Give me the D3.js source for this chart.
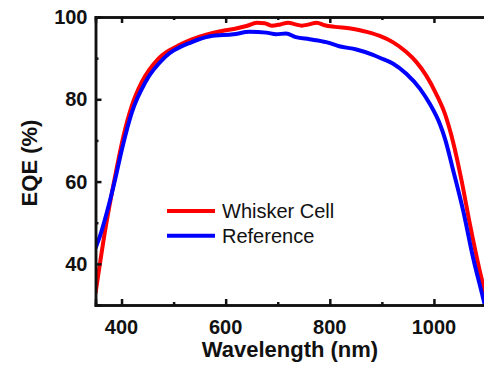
<!DOCTYPE html>
<html>
<head>
<meta charset="utf-8">
<script src="https://cdn.jsdelivr.net/npm/d3@7"></script>
<style>
  body { margin: 0; background: #fff; }
  svg { display: block; }
  .tick-label { font-family: "Liberation Sans", Arial, sans-serif; font-weight: bold; font-size: 20px; fill: #111; }
  .axis-title { font-family: "Liberation Sans", Arial, sans-serif; font-weight: bold; font-size: 22px; fill: #111; }
  .legend-text { font-family: "Liberation Sans", Arial, sans-serif; font-size: 20px; fill: #111; }
</style>
</head>
<body>
<div id="chart"></div>
<script>
// EQE spectra
const wlWhisker = [350, 369, 388, 404, 420, 439, 471, 510, 550, 575, 600, 620, 640, 660, 675, 688, 705, 720, 734, 746, 760, 775, 790, 810, 840, 860, 880, 896, 921, 947, 966, 985, 1004, 1021, 1037, 1053, 1069, 1085, 1100];
const eqeWhisker = [32.8, 48.5, 61.5, 71.2, 78.5, 84.2, 89.9, 93.1, 95.2, 96.1, 96.8, 97.2, 97.8, 98.6, 98.5, 97.9, 98.2, 98.6, 98.2, 97.9, 98.2, 98.6, 98.0, 97.6, 97.2, 96.7, 96.1, 95.4, 93.9, 91.5, 89.1, 85.8, 81.4, 76.5, 69.5, 60.3, 49.7, 40.0, 32.0];

const wlReference = [350, 359, 372, 388, 401, 420, 446, 484, 535, 570, 615, 646, 678, 697, 716, 735, 761, 793, 818, 851, 883, 896, 921, 947, 973, 992, 1011, 1021, 1037, 1056, 1075, 1094, 1100];
const eqeReference = [43.8, 46.9, 52.6, 60.7, 68.0, 76.9, 84.2, 90.3, 93.9, 95.3, 95.8, 96.4, 96.2, 95.8, 96.0, 95.1, 94.6, 93.9, 92.9, 92.1, 90.8, 90.1, 88.7, 86.2, 82.6, 78.9, 74.1, 70.5, 62.7, 53.0, 41.6, 31.9, 28.8];

const seriesNames = ["Whisker Cell", "Reference"];
const seriesColors = ["#ff0000", "#0000ff"];

const xMajor = [400, 600, 800, 1000];
const xMinor = [500, 700, 900];
const yMajor = [40, 60, 80, 100];
const yMinor = [50, 70, 90];

const W = 484, H = 367;
const margin = { top: 17, right: -2, bottom: 62, left: 95.5 };
const width = W - margin.left - margin.right;
const height = H - margin.top - margin.bottom;

const svg = d3.select("#chart").append("svg")
  .attr("width", W)
  .attr("height", H);

const x = d3.scaleLinear().domain([350, 1100]).range([0, width]);
const y = d3.scaleLinear().domain([30, 100]).range([height, 0]);

const g = svg.append("g")
  .attr("transform", `translate(${margin.left},${margin.top})`);

g.append("clipPath").attr("id", "clip")
  .append("rect").attr("width", width).attr("height", height);

const line = d3.line()
  .x(d => x(d[0]))
  .y(d => y(d[1]))
  .curve(d3.curveMonotoneX);

const series = [
  d3.zip(wlWhisker, eqeWhisker),
  d3.zip(wlReference, eqeReference)
];

series.forEach((s, i) => {
  g.append("path")
    .datum(s)
    .attr("clip-path", "url(#clip)")
    .attr("fill", "none")
    .attr("stroke", seriesColors[i])
    .attr("stroke-width", 4)
    .attr("d", line);
});

// axes: inward ticks on all sides
const axBottom = d3.axisBottom(x).tickValues(xMajor).tickSize(-6).tickFormat("");
const axBottomMinor = d3.axisBottom(x).tickValues(xMinor).tickSize(-3).tickFormat("");
const axTop = d3.axisTop(x).tickValues(xMajor).tickSize(-6).tickFormat("");
const axTopMinor = d3.axisTop(x).tickValues(xMinor).tickSize(-3).tickFormat("");
const axLeft = d3.axisLeft(y).tickValues(yMajor).tickSize(-6).tickFormat("");
const axLeftMinor = d3.axisLeft(y).tickValues(yMinor).tickSize(-3).tickFormat("");

function styleAxis(sel) {
  sel.selectAll("path").attr("stroke", "#111").attr("stroke-width", 2.5);
  sel.selectAll("line").attr("stroke", "#111").attr("stroke-width", 2.5);
}

g.append("g").attr("transform", `translate(0,${height})`).call(axBottom).call(styleAxis);
g.append("g").attr("transform", `translate(0,${height})`).call(axBottomMinor).call(styleAxis);
g.append("g").call(axTop).call(styleAxis);
g.append("g").call(axTopMinor).call(styleAxis);
g.append("g").call(axLeft).call(styleAxis);
g.append("g").call(axLeftMinor).call(styleAxis);
g.append("g").attr("transform", `translate(${width},0)`).call(d3.axisRight(y).tickValues([]).tickSize(0)).call(styleAxis);

// tick labels
g.selectAll(".xl").data(xMajor).enter().append("text")
  .attr("class", "tick-label")
  .attr("x", d => x(d))
  .attr("y", height + 29)
  .attr("text-anchor", "middle")
  .text(d => d);

g.selectAll(".yl").data(yMajor).enter().append("text")
  .attr("class", "tick-label")
  .attr("x", -8)
  .attr("y", d => y(d))
  .attr("dy", "0.36em")
  .attr("text-anchor", "end")
  .text(d => d);

// axis titles
svg.append("text")
  .attr("class", "axis-title")
  .attr("x", 290)
  .attr("y", 357)
  .attr("text-anchor", "middle")
  .text("Wavelength (nm)");

svg.append("text")
  .attr("class", "axis-title")
  .attr("transform", "translate(37,163) rotate(-90)")
  .attr("text-anchor", "middle")
  .text("EQE (%)");

// legend
const legend = svg.append("g");
seriesNames.forEach((name, i) => {
  const ly = 211 + i * 24.7;
  legend.append("line")
    .attr("x1", 167).attr("x2", 215)
    .attr("y1", ly).attr("y2", ly)
    .attr("stroke", seriesColors[i])
    .attr("stroke-width", 4);
  legend.append("text")
    .attr("class", "legend-text")
    .attr("x", 222)
    .attr("y", ly + 7)
    .text(name);
});
</script>
</body>
</html>
